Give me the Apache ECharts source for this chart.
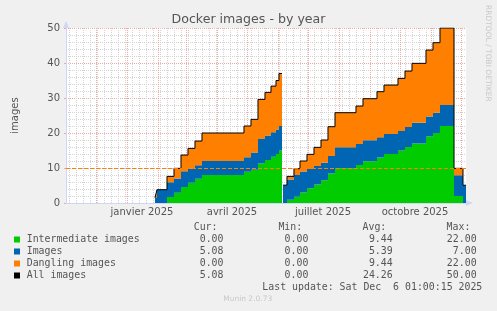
<!DOCTYPE html>
<html><head><meta charset="utf-8">
<script src="https://cdn.jsdelivr.net/npm/echarts@6/dist/echarts.min.js"></script>
<style>html,body{margin:0;padding:0;background:#F0F0F0}#c{width:497px;height:311px}</style>
</head><body><div id="c"></div>
<script>
// ---- data (daily consolidated values, step starts) ----
const dates = ['2025-01-29','2025-01-31','2025-02-10','2025-02-17','2025-02-24','2025-03-03','2025-03-10','2025-03-17',
  '2025-04-28','2025-05-05','2025-05-12','2025-05-19','2025-05-25','2025-05-30','2025-06-02','2025-06-04','2025-06-05',
  '2025-06-06','2025-06-10','2025-06-17','2025-06-23','2025-06-30','2025-07-07','2025-07-14','2025-07-21','2025-07-28',
  '2025-08-18','2025-08-25','2025-09-08','2025-09-15','2025-09-29','2025-10-06','2025-10-13','2025-10-27','2025-11-03',
  '2025-11-10','2025-11-24','2025-12-03','2025-12-06'];
const intermediate = [0,0,1.7,2.9,4.6,5.8,6.9,8.0, 8.9,9.5,11.3,12.3,13.2,14.0,15.0,15.0,null,
  0,0.9,1.8,3.0,4.2,5.3,6.5,8.4,9.9, 10.85,11.9,13.0,14.0,15.0,16.0,17.0,19.0,20.0, 22.0,2.0,0,0];
const images = [1.5,3.8,4.2,4.1,4.5,4.0,3.9,4.0, 4.2,4.9,7.0,7.0,7.0,7.0,7.0,7.0,null,
  5.1,5.8,6.2,6.0,5.5,5.3,5.0,5.0,6.0, 6.0,6.0,5.8,5.7,5.6,5.7,5.9,5.7,5.8, 6.0,5.9,5.08,5.08];
const dangling = [0,0,1.7,2.9,4.6,5.8,6.9,8.0, 8.9,9.5,11.3,12.3,13.2,14.0,15.0,15.0,null,
  0,0.9,1.8,3.0,4.2,5.3,6.5,8.4,9.9, 10.85,11.9,13.0,14.0,15.0,16.0,17.0,19.0,20.0, 22.0,2.0,0,0];
const warningLevel = 10;

// ---- axis / labels ----
const xTickLabels = ['janvier 2025','avril 2025','juillet 2025','octobre 2025'];
const xTickLabelDates = ['2025-01-16','2025-04-16','2025-07-16','2025-10-16'];
const yTicks = [0,10,20,30,40,50];

// ---- legend ----
const legendNames = ['Intermediate images','Images','Dangling images','All images'];
const legendColors = ['#00CC00','#0066B3','#FF8000','#000000'];
const statCur = ['0.00','5.08','0.00','5.08'];
const statMin = ['0.00','0.00','0.00','0.00'];
const statAvg = ['9.44','5.39','9.44','24.26'];
const statMax = ['22.00','7.00','22.00','50.00'];
const lastUpdate = 'Last update: Sat Dec  6 01:00:15 2025';

const T = s => Date.parse(s + 'T00:00:00Z');
const tStart = Date.UTC(2024,10,1,0,0,15);
const tEnd = Date.UTC(2025,11,6,0,0,15);

const total = dates.map((d,i)=> intermediate[i]==null ? null : intermediate[i]+images[i]+dangling[i]);

// vertical grid line positions (weekly Mondays = 0, month starts = 1)
const vGrid = [];
for (let t = Date.UTC(2024,10,4); t < tEnd; t += 7*86400000) vGrid.push([t, 0]);
for (let m = 1; m <= 13; m++) vGrid.push([Date.UTC(2024, 10 + m, 1), 1]);

const FONT = 'DejaVu Sans';
const MONO = 'DejaVu Sans Mono';
const TXT = '#555';
const axisCol = '#CFD6F8';
const RED = '#eeaaaa';
const GRAY = '#d4d4d4';

function mkArea(name, arr, color){
  return {name, type:'line', step:'end', stack:'s', symbol:'none', z:2,
    data: dates.map((d,i)=>[T(d), arr[i]]),
    lineStyle:{width:0}, areaStyle:{color, opacity:1}, itemStyle:{color}};
}

const graphic = [];
graphic.push({type:'text', x:248.5, y:19.5, style:{text:'Docker images - by year', font:'12.6px '+FONT, fill:TXT, align:'center', verticalAlign:'middle'}});
graphic.push({type:'text', x:15, y:115.5, rotation:Math.PI/2, style:{text:'images', font:'10px '+FONT, fill:TXT, align:'center', verticalAlign:'middle'}});
graphic.push({type:'text', x:488, y:5, rotation:-Math.PI/2, style:{text:'RRDTOOL / TOBI OETIKER', font:'7.5px '+FONT, fill:'#c8c8c8', align:'left', verticalAlign:'middle'}});
const colsHead = [['Cur:',217.5],['Min:',302.2],['Avg:',386.3],['Max:',470.4]];
colsHead.forEach(([t,x])=>graphic.push({type:'text', x, y:227.5, style:{text:t, font:'9.9px '+MONO, fill:TXT, align:'right', verticalAlign:'middle'}}));
const rowY = [239.5,251.5,263.5,275.5];
const colX = [223.5,308.4,392.7,476.6];
legendNames.forEach((n,i)=>{
  graphic.push({type:'rect', shape:{x:14,y:rowY[i]-3,width:6,height:6}, style:{fill:legendColors[i]}});
  graphic.push({type:'text', x:26.7, y:rowY[i], style:{text:n, font:'9.9px '+MONO, fill:TXT, align:'left', verticalAlign:'middle'}});
  [statCur,statMin,statAvg,statMax].forEach((arr,j)=>{
    graphic.push({type:'text', x:colX[j], y:rowY[i], style:{text:arr[i], font:'9.9px '+MONO, fill:TXT, align:'right', verticalAlign:'middle'}});
  });
});
graphic.push({type:'text', x:482.3, y:287.6, style:{text:lastUpdate, font:'9.9px '+MONO, fill:TXT, align:'right', verticalAlign:'middle'}});
graphic.push({type:'text', x:247.7, y:299.4, style:{text:'Munin 2.0.73', font:'7.5px '+FONT, fill:'#c8c8c8', align:'center', verticalAlign:'middle'}});

const option = {
  animation:false,
  backgroundColor:'#F0F0F0',
  grid:{left:66, top:28, width:400, height:175, show:true, backgroundColor:'#FFFFFF', borderWidth:0, containLabel:false, outerBoundsMode:'none'},
  xAxis:{type:'time', min:tStart, max:tEnd,
    axisLine:{show:true, lineStyle:{color:axisCol, width:1}, symbol:['none','triangle'], symbolSize:[6,7], symbolOffset:[0,3.5]},
    axisTick:{show:false}, axisLabel:{show:false}, splitLine:{show:false}},
  yAxis:{type:'value', min:yTicks[0], max:yTicks[yTicks.length-1], interval:10,
    axisLine:{show:true, lineStyle:{color:axisCol, width:1}, symbol:['none','triangle'], symbolSize:[6,7], symbolOffset:[0,3.5]},
    axisTick:{show:true, length:2, lineStyle:{color:RED}},
    minorTick:{show:false, splitNumber:5},
    axisLabel:{margin:6, fontFamily:FONT, fontSize:10, color:TXT},
    splitLine:{show:true, lineStyle:{color:RED, type:[1,1], width:1}},
    minorSplitLine:{show:true, lineStyle:{color:GRAY, type:[1,1], width:1}}},
  graphic,
  series:[
    {type:'custom', z:1, silent:true, clip:true, data:vGrid, encode:{x:0, y:1},
      renderItem:(params, api)=>{
        const cs = params.coordSys;
        const x = Math.round(api.coord([api.value(0), 0])[0]) + 0.5;
        return {type:'line', silent:true,
          shape:{x1:x, y1:cs.y, x2:x, y2:cs.y+cs.height},
          style:{stroke: api.value(1) ? RED : GRAY, lineDash:[1,1], lineWidth:1}};
      }},
    mkArea('Intermediate images', intermediate, legendColors[0]),
    mkArea('Images', images, legendColors[1]),
    mkArea('Dangling images', dangling, legendColors[2]),
    {name:'All images', type:'line', step:'end', symbol:'none', z:3,
      data: dates.map((d,i)=>[T(d), total[i]]),
      lineStyle:{color:'#000', width:1}, itemStyle:{color:'#000'},
      markLine:{silent:true, symbol:'none', label:{show:false},
        lineStyle:{color:'#FF8000', type:[4,2], width:1},
        data:[{yAxis:warningLevel}]}}
  ]
};
const chart = echarts.init(document.getElementById('c'), null, {renderer:'canvas'});
chart.setOption(option);
// x-axis month labels placed through the axis scale
const labelEls = xTickLabelDates.map((d,i)=>{
  const px = chart.convertToPixel({xAxisIndex:0}, T(d));
  return {type:'text', x:px, y:212.5, style:{text:xTickLabels[i], font:'10px '+FONT, fill:TXT, align:'center', verticalAlign:'middle'}};
});
chart.setOption({graphic: graphic.concat(labelEls)});
</script></body></html>
